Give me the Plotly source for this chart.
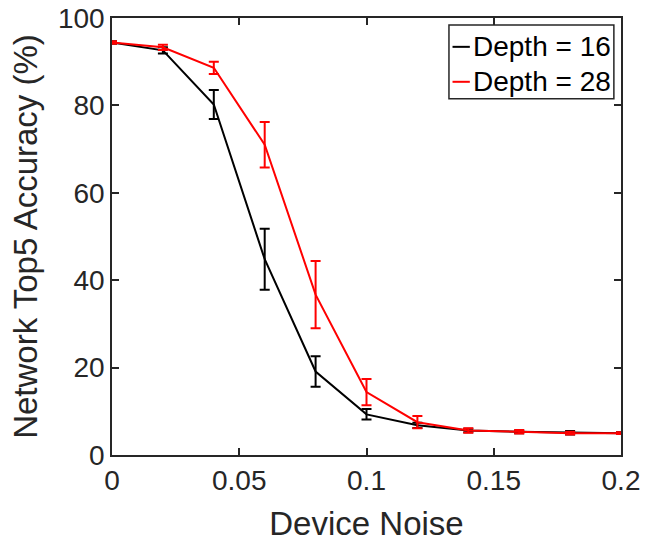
import plotly.graph_objects as go

noise = [0, 0.02, 0.04, 0.06, 0.08, 0.10, 0.12, 0.14, 0.16, 0.18, 0.20]

acc_d16 = [94.4, 92.6, 80.2, 44.8, 19.1, 9.3, 6.8, 5.6, 5.3, 5.1, 5.0]
err_d16 = [0.3, 0.7, 3.3, 7.0, 3.5, 1.2, 0.6, 0.4, 0.3, 0.4, 0.2]

acc_d28 = [94.4, 93.3, 88.6, 71.0, 36.7, 14.4, 7.5, 5.6, 5.3, 5.0, 5.0]
err_d28 = [0.3, 0.6, 1.4, 5.2, 7.7, 3.0, 1.4, 0.5, 0.4, 0.3, 0.2]

series_names = ["Depth = 16", "Depth = 28"]
colors = ["#000000", "#ff0000"]

x_ticks = [0, 0.05, 0.1, 0.15, 0.2]
x_ticklabels = ["0", "0.05", "0.1", "0.15", "0.2"]
y_ticks = [0, 20, 40, 60, 80, 100]

fig = go.Figure()
for name, ys, es, c in zip(series_names, [acc_d16, acc_d28], [err_d16, err_d28], colors):
    fig.add_trace(go.Scatter(
        x=noise, y=ys, mode="lines", name=name, showlegend=False,
        line=dict(color=c, width=2),
        error_y=dict(type="data", array=es, visible=True, color=c, thickness=2, width=5),
    ))

axis_color = "#262626"
font = "Liberation Sans, Arial, sans-serif"

# custom legend (box, short line samples, labels) in paper coordinates
shapes = [dict(type="rect", xref="paper", yref="paper", x0=0.662, x1=0.986, y0=0.815, y1=0.984,
               line=dict(color=axis_color, width=1.5), fillcolor="white", layer="above")]
annotations = []
rows_y = [0.934, 0.854]
for name, c, yy in zip(series_names, colors, rows_y):
    shapes.append(dict(type="line", xref="paper", yref="paper", x0=0.669, x1=0.703, y0=yy, y1=yy,
                       line=dict(color=c, width=2), layer="above"))
    annotations.append(dict(xref="paper", yref="paper", x=0.706, y=yy, xanchor="left", yanchor="middle",
                            text=name, showarrow=False, font=dict(size=28, color="#000000", family=font)))

fig.update_layout(
    width=645, height=548,
    margin=dict(l=112, r=24, t=18, b=93),
    paper_bgcolor="white", plot_bgcolor="white",
    font=dict(family=font, size=28, color=axis_color),
    showlegend=False,
    shapes=shapes, annotations=annotations,
    xaxis=dict(
        range=[0, 0.2], tickvals=x_ticks, ticktext=x_ticklabels,
        ticks="inside", ticklen=7, tickwidth=1.5, tickcolor=axis_color,
        showline=True, linecolor=axis_color, linewidth=1.5, mirror="ticks",
        showgrid=False, zeroline=False, automargin=False,
        title=dict(text="Device Noise", font=dict(size=33), standoff=17),
        tickfont=dict(size=28),
    ),
    yaxis=dict(
        range=[0, 100], tickvals=y_ticks,
        ticks="inside", ticklen=7, tickwidth=1.5, tickcolor=axis_color,
        showline=True, linecolor=axis_color, linewidth=1.5, mirror="ticks",
        showgrid=False, zeroline=False, automargin=False,
        title=dict(text="Network Top5 Accuracy (%)", font=dict(size=33), standoff=10),
        tickfont=dict(size=28),
    ),
)

fig.write_html(
    "out.html",
    config={"displayModeBar": False},
    post_script="document.body.style.margin='0';document.body.style.overflow='hidden';",
)
